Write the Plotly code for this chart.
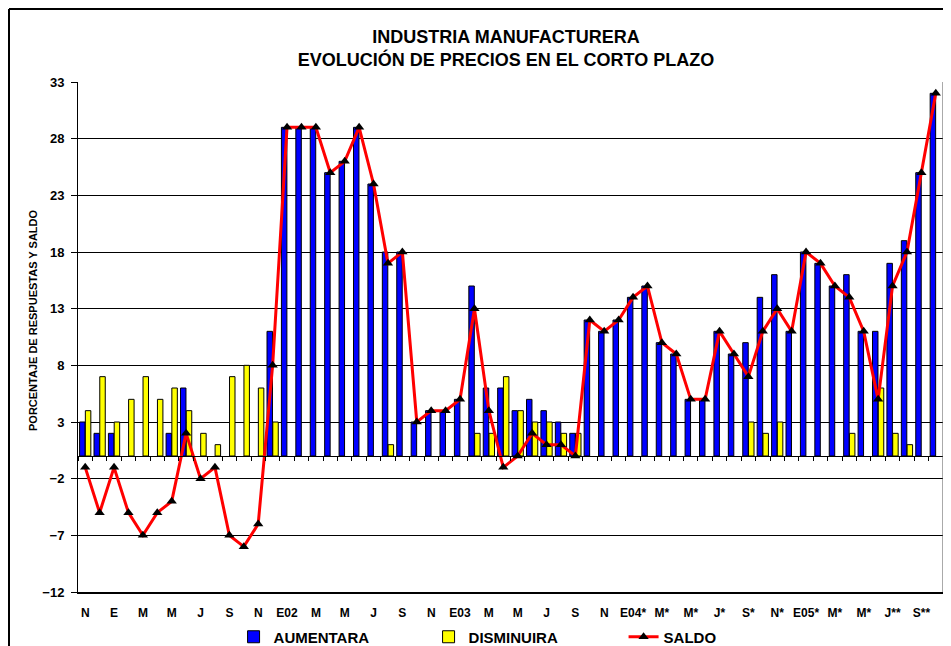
import plotly.graph_objects as go

# Months Nov-2000 .. Oct-2005 (60 monthly survey points)
categories = [
    "N00", "D00",
    "E01", "F01", "M01", "A01", "My01", "Jn01", "Jl01", "Ag01", "S01", "O01", "N01", "D01",
    "E02", "F02", "M02", "A02", "My02", "Jn02", "Jl02", "Ag02", "S02", "O02", "N02", "D02",
    "E03", "F03", "M03", "A03", "My03", "Jn03", "Jl03", "Ag03", "S03", "O03", "N03", "D03",
    "E04", "F04", "M04", "A04", "My04", "Jn04", "Jl04", "Ag04", "S04", "O04", "N04", "D04",
    "E05", "F05", "M05", "A05", "My05", "Jn05", "Jl05", "Ag05", "S05", "O05",
]
tick_labels = ["N", "E", "M", "M", "J", "S", "N", "E02", "M", "M", "J", "S", "N", "E03",
               "M", "M", "J", "S", "N", "E04*", "M*", "M*", "J*", "S*", "N*", "E05*",
               "M*", "M*", "J**", "S**"]

aumentara = [3, 2, 2, 0, 0, 0, 2, 6, 0, 0, 0, 0, 0, 11, 29, 29, 29, 25, 26, 29,
             24, 18, 18, 3, 4, 4, 5, 15, 6, 6, 4, 5, 4, 3, 2, 12, 11, 12, 14, 15,
             10, 9, 5, 5, 11, 9, 10, 14, 16, 11, 18, 17, 15, 16, 11, 11, 17, 19, 25, 32]
disminuira = [4, 7, 3, 5, 7, 5, 6, 4, 2, 1, 7, 8, 6, 3, 0, 0, 0, 0, 0, 0,
              0, 1, 0, 0, 0, 0, 0, 2, 2, 7, 4, 3, 3, 2, 2, 0, 0, 0, 0, 0,
              0, 0, 0, 0, 0, 0, 3, 2, 3, 0, 0, 0, 0, 2, 0, 6, 2, 1, 0, 0]
saldo = [-1, -5, -1, -5, -7, -5, -4, 2, -2, -1, -7, -8, -6, 8, 29, 29, 29, 25, 26, 29,
         24, 17, 18, 3, 4, 4, 5, 13, 4, -1, 0, 2, 1, 1, 0, 12, 11, 12, 14, 15,
         10, 9, 5, 5, 11, 9, 7, 11, 13, 11, 18, 17, 15, 14, 11, 5, 15, 18, 25, 32]

y_ticks = [-12, -7, -2, 3, 8, 13, 18, 23, 28, 33]
y_min, y_max = -12, 33

FONT = "Liberation Sans, Arial, sans-serif"

# figure geometry (the page shows the figure offset by the 8px body margin)
W, H = 943, 638
ML, MR, MT, MB = 70, 8, 74, 54
PW, PH = W - ML - MR, H - MT - MB


def px_x(x):
    return (x - ML) / PW


def px_y(y):
    return (H - MB - y) / PH


def nz(vals):
    return [v if v != 0 else None for v in vals]


fig = go.Figure()
fig.add_trace(go.Bar(
    x=categories, y=nz(aumentara), name="AUMENTARA",
    marker=dict(color="#0000FF", line=dict(color="black", width=1)),
))
fig.add_trace(go.Bar(
    x=categories, y=nz(disminuira), name="DISMINUIRA",
    marker=dict(color="#FFFF00", line=dict(color="black", width=1)),
))
fig.add_trace(go.Scatter(
    x=categories, y=saldo, name="SALDO", mode="lines+markers",
    line=dict(color="#FF0000", width=3),
    marker=dict(symbol="triangle-up", color="black", size=9),
))
# helper trace for the zero category axis (tick marks at y = 0)
fig.add_trace(go.Scatter(
    x=categories, y=saldo, xaxis="x2", yaxis="y", mode="markers",
    marker=dict(opacity=0), showlegend=False, hoverinfo="skip",
))

zero_pos = (0 - y_min) / (y_max - y_min)

fig.update_layout(
    width=W, height=H,
    paper_bgcolor="white", plot_bgcolor="white",
    margin=dict(l=ML, r=MR, t=MT, b=MB, autoexpand=False),
    barmode="group", bargap=0.2, bargroupgap=0.05,
    font=dict(family=FONT, color="black", weight="bold"),
    title=dict(
        text="INDUSTRIA MANUFACTURERA<br>EVOLUCIÓN DE PRECIOS EN EL CORTO PLAZO",
        x=498 / W, xanchor="center", xref="container",
        y=1 - 35 / H, yanchor="middle",
        font=dict(family=FONT, size=18, color="black", weight="bold"),
    ),
    xaxis=dict(
        type="category", categoryorder="array", categoryarray=categories,
        range=[-0.5, len(categories) - 0.5],
        tickmode="array", tickvals=categories[::2], ticktext=tick_labels,
        ticks="outside", ticklen=9, tickcolor="rgba(0,0,0,0)",
        tickfont=dict(family=FONT, size=12, color="black", weight="bold"),
        showgrid=False, showline=True, linecolor="black", linewidth=2,
        zeroline=False,
    ),
    xaxis2=dict(
        type="category", categoryorder="array", categoryarray=categories,
        overlaying="x", anchor="free", position=zero_pos,
        range=[-0.5, len(categories) - 0.5],
        tickmode="array", tickvals=categories, tickson="boundaries",
        ticks="outside", ticklen=4, tickcolor="black", tickwidth=1,
        showticklabels=False, showgrid=False,
        showline=True, linecolor="black", linewidth=1, zeroline=False,
    ),
    yaxis=dict(
        range=[y_min, y_max], tickmode="array", tickvals=y_ticks,
        ticks="outside", ticklen=6, tickcolor="black", ticklabelstandoff=4,
        tickfont=dict(family=FONT, size=13, color="black", weight="bold"),
        showgrid=True, gridcolor="black", gridwidth=1,
        showline=True, linecolor="black", linewidth=1, zeroline=False,
    ),
    legend=dict(
        orientation="h", x=0.518, xanchor="center", y=px_y(629), yanchor="middle",
        font=dict(family=FONT, size=15, color="black", weight="bold"),
        entrywidth=150, entrywidthmode="pixels", traceorder="normal",
        bgcolor="rgba(0,0,0,0)",
    ),
    annotations=[dict(
        text="PORCENTAJE DE RESPUESTAS Y SALDO", textangle=-90,
        xref="paper", yref="paper", x=px_x(25), y=px_y(312),
        xanchor="center", yanchor="middle", showarrow=False,
        font=dict(family=FONT, size=11, color="black", weight="bold"),
    )],
    shapes=[
        dict(type="line", xref="paper", yref="paper", x0=1, x1=1, y0=0, y1=1,
             line=dict(color="#555555", width=1)),
        dict(type="line", xref="paper", yref="paper",
             x0=px_x(1), x1=px_x(1), y0=px_y(H + 10), y1=px_y(1),
             line=dict(color="black", width=2)),
        dict(type="line", xref="paper", yref="paper",
             x0=px_x(1), x1=px_x(W + 10), y0=px_y(1), y1=px_y(1),
             line=dict(color="black", width=2)),
    ],
)

fig.write_html("out.html")
